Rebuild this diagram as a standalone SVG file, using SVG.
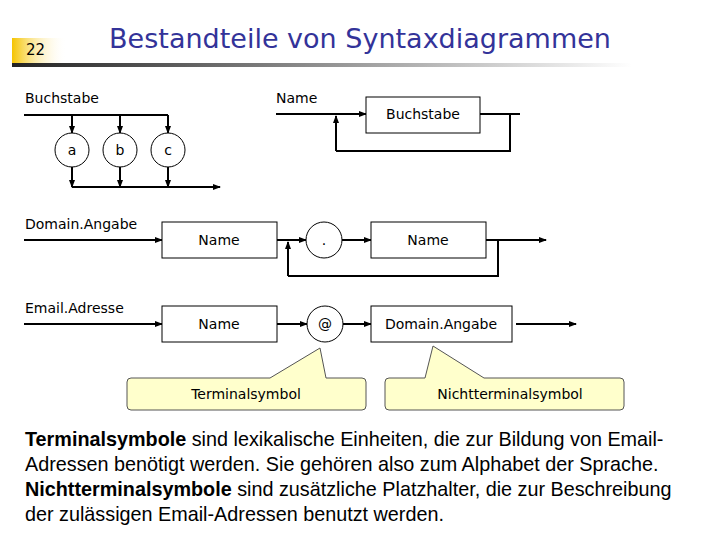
<svg xmlns="http://www.w3.org/2000/svg" width="720" height="540" viewBox="0 0 720 540">
<defs>
<linearGradient id="yel" x1="0" x2="1"><stop offset="0" stop-color="#f5c400"/><stop offset="1" stop-color="#fff" stop-opacity="0"/></linearGradient>
<linearGradient id="rule" x1="0" x2="1"><stop offset="0" stop-color="#222"/><stop offset="1" stop-color="#fff"/></linearGradient>
<marker id="ar" markerWidth="8" markerHeight="6" refX="7" refY="3" orient="auto" markerUnits="userSpaceOnUse"><path d="M0,0L8,3L0,6z" fill="#000"/></marker>
</defs>
<style>
text{font-family:"DejaVu Sans","Liberation Sans",sans-serif;fill:#000}
.l{font-size:14px}
.t{font-size:14px;text-anchor:middle}
.box{fill:#fff;stroke:#000;stroke-width:1}
.c{fill:#fff;stroke:#000;stroke-width:1}
.w{fill:none;stroke:#000;stroke-width:2}
.a{marker-end:url(#ar)}
.call{fill:#ffffcc;stroke:#555;stroke-width:1}
.b{font-family:"Liberation Sans",sans-serif;font-size:19.8px}
</style>
<rect x="12" y="38" width="55" height="26" fill="url(#yel)"/>
<text x="26" y="55" style="font-size:15px;fill:#000">22</text>
<text x="360" y="48" text-anchor="middle" style="font-size:27px;fill:#333399">Bestandteile von Syntaxdiagrammen</text>
<rect x="12" y="63" width="620" height="4" fill="url(#rule)"/>
<g id="connectors">
<path class="w" d="M24,115H168"/>
<path class="w a" d="M72,115V133"/><path class="w a" d="M120,115V133"/><path class="w a" d="M168,115V133"/>
<path class="w a" d="M72,167V187"/><path class="w a" d="M120,167V187"/><path class="w a" d="M168,167V187"/>
<path class="w a" d="M72,187H220"/>
<path class="w a" d="M276,114H366"/>
<path class="w" d="M480,114H520M510,114V151H336"/>
<path class="w a" d="M336,151V116"/>
<path class="w a" d="M24,240H162"/>
<path class="w a" d="M277,240H306"/>
<path class="w a" d="M342,240H371"/>
<path class="w a" d="M486,240H546"/>
<path class="w" d="M498,240V276H288"/>
<path class="w a" d="M288,276V242"/>
<path class="w a" d="M24,324H162"/>
<path class="w a" d="M277,324H307"/>
<path class="w a" d="M343,324H371"/>
<path class="w a" d="M516,324H576"/>
</g>
<text class="l" x="25" y="103">Buchstabe</text>
<text class="l" x="276" y="103">Name</text>
<text class="l" x="25" y="229">Domain.Angabe</text>
<text class="l" x="25" y="313">Email.Adresse</text>
<g id="a"><circle class="c" cx="72" cy="150" r="17"/><text class="t" x="72" y="155">a</text></g>
<g id="b"><circle class="c" cx="120" cy="150" r="17"/><text class="t" x="120" y="155">b</text></g>
<g id="c"><circle class="c" cx="168" cy="150" r="17"/><text class="t" x="168" y="155">c</text></g>
<g id="buch"><rect class="box" x="366" y="97" width="114" height="36"/><text class="t" x="423" y="119">Buchstabe</text></g>
<g id="name1"><rect class="box" x="162" y="222" width="115" height="36"/><text class="t" x="219" y="245">Name</text></g>
<g id="dot"><circle class="c" cx="324" cy="240" r="18"/><text class="t" x="324" y="245">.</text></g>
<g id="name2"><rect class="box" x="371" y="222" width="115" height="36"/><text class="t" x="428" y="245">Name</text></g>
<g id="name3"><rect class="box" x="162" y="306" width="115" height="36"/><text class="t" x="219" y="329">Name</text></g>
<g id="at"><circle class="c" cx="325" cy="324" r="18"/><text class="t" x="325" y="329">@</text></g>
<g id="dom"><rect class="box" x="371" y="306" width="141" height="36"/><text class="t" x="441" y="329">Domain.Angabe</text></g>
<g id="term"><path class="call" d="M131,378H270L320,348L326,378H362Q366,378 366,382V406Q366,410 362,410H131Q127,410 127,406V382Q127,378 131,378Z"/><text class="t" x="246" y="399">Terminalsymbol</text></g>
<g id="nterm"><path class="call" d="M389,378H425L433,346L484,378H620Q624,378 624,382V406Q624,410 620,410H389Q385,410 385,406V382Q385,378 389,378Z"/><text class="t" x="510" y="399">Nichtterminalsymbol</text></g>
<text class="b" x="25" y="446"><tspan font-weight="bold">Terminalsymbole</tspan> sind lexikalische Einheiten, die zur Bildung von Email-</text>
<text class="b" x="25" y="471">Adressen benötigt werden. Sie gehören also zum Alphabet der Sprache.</text>
<text class="b" x="25" y="496"><tspan font-weight="bold">Nichtterminalsymbole</tspan> sind zusätzliche Platzhalter, die zur Beschreibung</text>
<text class="b" x="25" y="521">der zulässigen Email-Adressen benutzt werden.</text>
</svg>
